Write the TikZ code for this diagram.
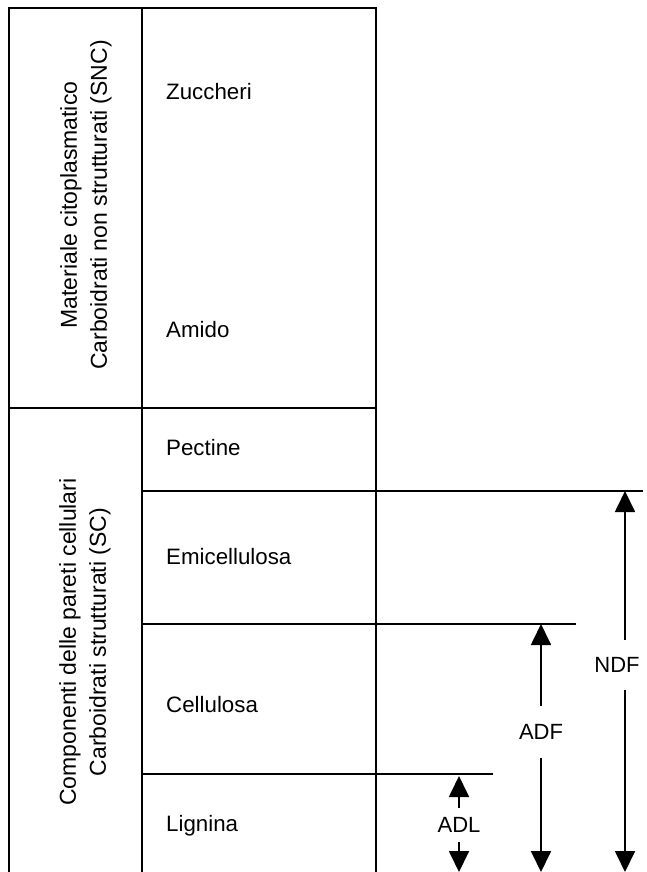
\documentclass[tikz,border=0pt]{standalone}
\usepackage{fontspec}
\setmainfont{Liberation Sans}
\usetikzlibrary{arrows.meta}
\tikzset{
  rule/.style={line width=1.8pt, line cap=rect},
  lbl/.style={anchor=west, inner sep=0pt, font=\fontsize{22.3}{24}\selectfont},
  side/.style={rotate=90, align=center, inner sep=0pt, font=\fontsize{23}{30}\selectfont},
  meas/.style={inner sep=0pt, font=\fontsize{22}{24}\selectfont},
  shaft/.style={line width=1.8pt, -{Triangle[width=20pt,length=21pt]}},
}
\begin{document}
\begin{tikzpicture}[x=1pt,y=-1pt]
\useasboundingbox (0,0) rectangle (647,872);
% frame
\draw[rule] (9,872) -- (9,8) -- (376,8) -- (376,872);
\draw[rule] (142,8) -- (142,872);
\draw[rule] (9,408) -- (376,408);
\draw[rule] (142,491) -- (642,491);
\draw[rule] (142,624) -- (575,624);
\draw[rule] (142,774) -- (492,774);
% left labels
\node[side] (snc) at (86,205) {Materiale citoplasmatico\\Carboidrati non strutturati (SNC)};
\node[side] (sc) at (85,642) {Componenti delle pareti cellulari\\Carboidrati strutturati (SC)};
% row labels
\node[lbl] (zu) at (166,92) {Zuccheri};
\node[lbl] (am) at (166,330) {Amido};
\node[lbl] (pe) at (166,448) {Pectine};
\node[lbl] (em) at (166,557) {Emicellulosa};
\node[lbl] (ce) at (166,705) {Cellulosa};
\node[lbl] (li) at (166,826) {Lignina};
% measures
\node[meas, minimum height=50pt] (ndf) at (617,665) {NDF};
\node[meas, minimum height=51pt] (adf) at (541,732) {ADF};
\node[meas, minimum height=34pt] (adl) at (459,825) {ADL};
\coordinate (ndft) at (625,491);
\coordinate (ndfb) at (625,872);
\coordinate (adft) at (541,624);
\coordinate (adfb) at (541,872);
\coordinate (adlt) at (459,776);
\coordinate (adlb) at (459,872);
\draw[shaft] (ndf.north -| ndft) -- (ndft);
\draw[shaft] (ndf.south -| ndfb) -- (ndfb);
\draw[shaft] (adf.north) -- (adft);
\draw[shaft] (adf.south) -- (adfb);
\draw[shaft] (adl.north) -- (adlt);
\draw[shaft] (adl.south) -- (adlb);
\end{tikzpicture}
\end{document}
